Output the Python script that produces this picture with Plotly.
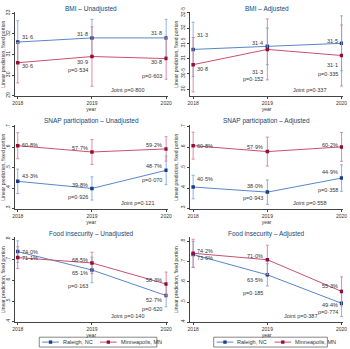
import plotly.graph_objects as go

# ---------------- data ----------------
years = [2018, 2019, 2020]
year_ticklabels = ["2018", "2019", "2020"]
panel_titles = [
    "BMI – Unadjusted", "BMI – Adjusted",
    "SNAP participation – Unadjusted", "SNAP participation – Adjusted",
    "Food insecurity – Unadjusted", "Food insecurity – Adjusted",
]
series_names = ["Raleigh, NC", "Minneapolis, MN"]

# BMI (kg/m2)
raleigh_bmi_unadj = [31.6, 31.8, 31.8]
minneapolis_bmi_unadj = [30.6, 30.9, 30.8]
raleigh_bmi_unadj_ci = [1.03, 0.90, 0.90]
minneapolis_bmi_unadj_ci = [0.98, 1.44, 1.00]
raleigh_bmi_adj = [31.3, 31.4, 31.5]
minneapolis_bmi_adj = [30.8, 31.3, 31.1]
raleigh_bmi_adj_ci = [0.89, 0.60, 0.90]
minneapolis_bmi_adj_ci = [0.89, 1.00, 1.00]

# SNAP participation (proportion)
raleigh_snap_unadj = [0.433, 0.398, 0.487]
minneapolis_snap_unadj = [0.608, 0.577, 0.592]
raleigh_snap_unadj_ci = [0.060, 0.057, 0.070]
minneapolis_snap_unadj_ci = [0.064, 0.061, 0.060]
raleigh_snap_adj = [0.405, 0.380, 0.449]
minneapolis_snap_adj = [0.608, 0.579, 0.602]
raleigh_snap_adj_ci = [0.058, 0.060, 0.065]
minneapolis_snap_adj_ci = [0.066, 0.071, 0.071]

# Food insecurity (proportion)
raleigh_food_unadj = [0.740, 0.651, 0.527]
minneapolis_food_unadj = [0.711, 0.685, 0.583]
raleigh_food_unadj_ci = [0.052, 0.062, 0.054]
minneapolis_food_unadj_ci = [0.053, 0.052, 0.058]
raleigh_food_adj = [0.736, 0.635, 0.494]
minneapolis_food_adj = [0.742, 0.710, 0.553]
raleigh_food_adj_ci = [0.065, 0.055, 0.065]
minneapolis_food_adj_ci = [0.069, 0.072, 0.072]

# p-values (2019, 2020) and joint
pvals_bmi_unadj = [0.534, 0.603]
pvals_bmi_adj = [0.152, 0.335]
pvals_snap_unadj = [0.926, 0.070]
pvals_snap_adj = [0.943, 0.358]
pvals_food_unadj = [0.163, 0.620]
pvals_food_adj = [0.185, 0.774]
joint_pvals = [0.800, 0.337, 0.121, 0.558, 0.140, 0.387]

# y-axis ticks
bmi_unadj_ticks = [29, 30, 31, 32, 33]
bmi_unadj_ticklabels = ["29", "30", "31", "32", "33"]
bmi_adj_ticks = [30, 30.5, 31, 31.5, 32, 32.5]
bmi_adj_ticklabels = ["30", "30·5", "31", "31·5", "32", "32·5"]
snap_ticks = [0.3, 0.4, 0.5, 0.6, 0.7]
snap_ticklabels = [".3", ".4", ".5", ".6", ".7"]
food_ticks = [0.4, 0.5, 0.6, 0.7, 0.8]
food_ticklabels = [".4", ".5", ".6", ".7", ".8"]

# ---------------- styling / layout ----------------
W, H = 350, 349
BLUE_LINE, BLUE_MARK, BLUE_CI = "#5a86c8", "#1b3c86", "#86a8dc"
RED_LINE, RED_MARK, RED_CI = "#c8506f", "#960d33", "#d9819a"
TITLE_COLOR = "#1a476f"
TEXT_COLOR = "#333333"
FONT = "Liberation Sans, Arial, sans-serif"

col_px = [(12, 168), (191, 347)]
row_px = [(7, 93), (122, 208), (236, 323)]
title_py = [4, 118.5, 233]
legend_box_px = [(37, 157), (215, 331)]
legend_y_px = (338, 348)

def xdom(c):
    a, b = col_px[c]
    return [a / W, b / W]

def ydom(r):
    a, b = row_px[r]
    return [1 - b / H, 1 - a / H]

def px_x(v):
    return v / W

def px_y(v):
    return 1 - v / H

def fmt_num(v, pct):
    if pct:
        return f"{v * 100:.1f}%".replace(".", "·")
    return f"{v:.1f}".replace(".", "·")

def fmt_p(p):
    return f"{p:.3f}".replace(".", "·")

panels = [
    dict(r=raleigh_bmi_unadj, m=minneapolis_bmi_unadj, rci=raleigh_bmi_unadj_ci, mci=minneapolis_bmi_unadj_ci,
         p=pvals_bmi_unadj, pct=False, rng=[28.97, 33.06], tv=bmi_unadj_ticks, tt=bmi_unadj_ticklabels,
         rs=[5, 4, 5], ms=[-3, -5, -3], ps=[-13, -17], jx=0.74),
    dict(r=raleigh_bmi_adj, m=minneapolis_bmi_adj, rci=raleigh_bmi_adj_ci, mci=minneapolis_bmi_adj_ci,
         p=pvals_bmi_adj, pct=False, rng=[29.76, 32.53], tv=bmi_adj_ticks, tt=bmi_adj_ticklabels,
         rs=[14, 3, 2], ms=[-4, -23, -9], ps=[-30, -18], jx=0.78),
    dict(r=raleigh_snap_unadj, m=minneapolis_snap_unadj, rci=raleigh_snap_unadj_ci, mci=minneapolis_snap_unadj_ci,
         p=pvals_snap_unadj, pct=True, rng=[0.295, 0.71], tv=snap_ticks, tt=snap_ticklabels,
         rs=[5, 3, 4], ms=[1, 4, 4], ps=[-9, -10], jx=0.80),
    dict(r=raleigh_snap_adj, m=minneapolis_snap_adj, rci=raleigh_snap_adj_ci, mci=minneapolis_snap_adj_ci,
         p=pvals_snap_adj, pct=True, rng=[0.295, 0.71], tv=snap_ticks, tt=snap_ticklabels,
         rs=[8, 6, 6], ms=[0, 5, 2], ps=[-6, -12], jx=0.78),
    dict(r=raleigh_food_unadj, m=minneapolis_food_unadj, rci=raleigh_food_unadj_ci, mci=minneapolis_food_unadj_ci,
         p=pvals_food_unadj, pct=True, rng=[0.397, 0.811], tv=food_ticks, tt=food_ticklabels,
         rs=[0, -3, -4], ms=[0, 3, 4], ps=[-16, -13], jx=0.74),
    dict(r=raleigh_food_adj, m=minneapolis_food_adj, rci=raleigh_food_adj_ci, mci=minneapolis_food_adj_ci,
         p=pvals_food_adj, pct=True, rng=[0.399, 0.823], tv=food_ticks, tt=food_ticklabels,
         rs=[-4, -5, -2], ms=[2, 4, 5], ps=[-18, -9], jx=0.72),
]

fig = go.Figure()
annotations = []
shapes = []
layout_axes = {}

for i, pn in enumerate(panels):
    row, col = divmod(i, 2)
    k = "" if i == 0 else str(i + 1)
    xa, ya = "x" + k, "y" + k
    for name, vals, ci, lc, mc, cc in [
        (series_names[0], pn["r"], pn["rci"], BLUE_LINE, BLUE_MARK, BLUE_CI),
        (series_names[1], pn["m"], pn["mci"], RED_LINE, RED_MARK, RED_CI),
    ]:
        fig.add_trace(go.Scatter(
            x=years, y=vals, mode="lines+markers", name=name,
            line=dict(color=lc, width=1),
            marker=dict(symbol="square", size=3.5, color=mc),
            error_y=dict(type="data", array=ci, visible=True, color=cc, thickness=0.9, width=1.5),
            xaxis=xa, yaxis=ya, showlegend=False,
        ))
    # value labels
    for j, yr in enumerate(years):
        for vals, shifts in [(pn["r"], pn["rs"]), (pn["m"], pn["ms"])]:
            annotations.append(dict(
                x=yr, y=vals[j], xref=xa, yref=ya, text=fmt_num(vals[j], pn["pct"]),
                showarrow=False, xanchor="left" if j == 0 else "right",
                xshift=2 if j == 0 else -2, yshift=shifts[j],
                font=dict(size=5.5, color=TEXT_COLOR, family=FONT),
            ))
    # p-values
    for j in range(2):
        yr = years[j + 1]
        low = min(pn["r"][j + 1], pn["m"][j + 1])
        annotations.append(dict(
            x=yr, y=low, xref=xa, yref=ya, text="p=" + fmt_p(pn["p"][j]),
            showarrow=False, xanchor="right", xshift=-2, yshift=pn["ps"][j],
            font=dict(size=5.5, color=TEXT_COLOR, family=FONT),
        ))
    annotations.append(dict(
        x=pn["jx"], y=0, xref=xa + " domain", yref=ya + " domain",
        text="Joint p=" + fmt_p(joint_pvals[i]), showarrow=False,
        xanchor="center", yanchor="bottom", yshift=1,
        font=dict(size=5.5, color=TEXT_COLOR, family=FONT),
    ))
    # panel title
    xd = xdom(col)
    annotations.append(dict(
        x=(xd[0] + xd[1]) / 2, y=1 - title_py[row] / H, xref="paper", yref="paper",
        text=panel_titles[i], showarrow=False, xanchor="center", yanchor="middle",
        font=dict(size=6.5, color=TITLE_COLOR, family=FONT),
    ))

    axis_common = dict(showline=True, linecolor="#444444", linewidth=0.8, ticks="outside",
                       ticklen=2, tickwidth=0.6, tickcolor="#444444", showgrid=False, zeroline=False,
                       tickfont=dict(size=5, color=TEXT_COLOR, family=FONT))
    layout_axes["xaxis" + k] = dict(
        domain=xd, range=[2017.96, 2020.02], anchor=ya, tickvals=years, ticktext=year_ticklabels,
        title=dict(text="year", font=dict(size=5, color=TEXT_COLOR, family=FONT), standoff=0),
        **axis_common)
    layout_axes["yaxis" + k] = dict(
        domain=ydom(row), range=pn["rng"], anchor=xa, tickvals=pn["tv"], ticktext=pn["tt"],
        tickangle=-90,
        title=dict(text="Linear prediction, fixed portion", font=dict(size=5, color=TEXT_COLOR, family=FONT), standoff=1),
        **axis_common)

# legends under the two bottom panels (compact Stata-style key)
y0, y1 = legend_y_px
ym = (y0 + y1) / 2
for (bx0, bx1) in legend_box_px:
    shapes.append(dict(type="rect", xref="paper", yref="paper",
                       x0=px_x(bx0), x1=px_x(bx1), y0=px_y(y1), y1=px_y(y0),
                       line=dict(color="#555555", width=0.7), fillcolor="white"))
    entries = [(bx0 + 3, series_names[0], BLUE_LINE, BLUE_MARK),
               (bx0 + 62, series_names[1], RED_LINE, RED_MARK)]
    for sx, name, lc, mc in entries:
        shapes.append(dict(type="line", xref="paper", yref="paper",
                           x0=px_x(sx), x1=px_x(sx + 17), y0=px_y(ym), y1=px_y(ym),
                           line=dict(color=lc, width=1)))
        shapes.append(dict(type="rect", xref="paper", yref="paper",
                           x0=px_x(sx + 6.8), x1=px_x(sx + 10.2), y0=px_y(ym + 1.7), y1=px_y(ym - 1.7),
                           line=dict(width=0), fillcolor=mc))
        annotations.append(dict(x=px_x(sx + 19), y=px_y(ym), xref="paper", yref="paper",
                                text=name, showarrow=False, xanchor="left", yanchor="middle",
                                font=dict(size=5.5, color=TEXT_COLOR, family=FONT)))

fig.update_layout(
    width=W, height=H, margin=dict(l=0, r=0, t=0, b=0),
    paper_bgcolor="white", plot_bgcolor="white",
    font=dict(family=FONT),
    annotations=annotations, shapes=shapes,
    showlegend=False,
    **layout_axes,
)
fig.write_html("out.html", config={"displayModeBar": False},
               post_script="document.body.style.margin='0';document.body.style.padding='0';")
